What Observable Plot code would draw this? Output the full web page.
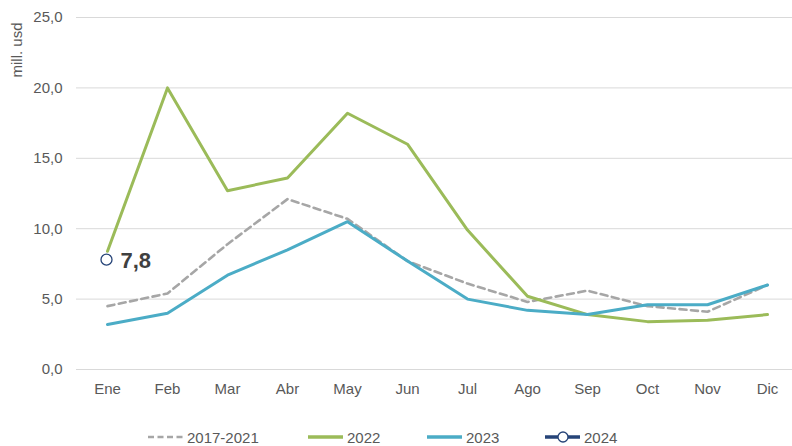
<!DOCTYPE html>
<html>
<head>
<meta charset="utf-8">
<script src="https://cdn.jsdelivr.net/npm/d3@7"></script>
<script src="https://cdn.jsdelivr.net/npm/@observablehq/plot@0.6"></script>
<style>
  body { margin: 0; background: #fff; font-family: "Liberation Sans", Arial, sans-serif; }
  #chart { width: 792px; height: 446px; position: relative; overflow: hidden; }
  #legend { position: relative; height: 26px; font-size: 15px; color: #595959; }
  .item { position: absolute; top: 0; height: 26px; display: flex; align-items: center; }
  .item svg { margin-right: 4px; }
</style>
</head>
<body>
<div id="chart"></div>
<script>
const months = ["Ene","Feb","Mar","Abr","May","Jun","Jul","Ago","Sep","Oct","Nov","Dic"];
const s2017_2021 = [4.5, 5.4, 8.9, 12.1, 10.7, 7.7, 6.1, 4.8, 5.6, 4.5, 4.1, 6.0];
const s2022 = [8.4, 20.0, 12.7, 13.6, 18.2, 16.0, 9.9, 5.2, 3.9, 3.4, 3.5, 3.9];
const s2023 = [3.2, 4.0, 6.7, 8.5, 10.5, 7.7, 5.0, 4.2, 3.9, 4.6, 4.6, 6.0];
const s2024 = [7.8];
const yTicks = [0, 5, 10, 15, 20, 25];
const seriesNames = ["2017-2021", "2022", "2023", "2024"];
const seriesColors = ["#a6a6a6", "#9bbb59", "#4bacc6", "#264478"];

const fmt = d => d.toFixed(1).replace(".", ",");
const toRows = (arr, name) => arr.map((v, i) => ({month: months[i], value: v, series: name}));
const d1721 = toRows(s2017_2021, seriesNames[0]);
const d22 = toRows(s2022, seriesNames[1]);
const d23 = toRows(s2023, seriesNames[2]);
const d24 = toRows(s2024, seriesNames[3]);

const W = 792, H = 424;
const plot = Plot.plot({
  width: W,
  height: H,
  marginLeft: 76,
  marginRight: 0,
  marginTop: 17,
  marginBottom: H - 369,
  style: {fontFamily: "Liberation Sans, Arial, sans-serif", fontSize: "15px", color: "#595959", background: "#fff"},
  x: {type: "point", domain: months, range: [107, 767], padding: 0},
  y: {domain: [0, 25]},
  marks: [
    Plot.ruleY(yTicks, {stroke: "#d9d9d9", strokeWidth: 1}),
    Plot.axisY(yTicks, {tickSize: 0, tickPadding: 14, tickFormat: fmt, label: null, fill: "#595959"}),
    Plot.axisX({tickSize: 0, tickPadding: 14, label: null, fill: "#595959"}),
    Plot.line(d1721, {x: "month", y: "value", stroke: seriesColors[0], strokeWidth: 2.6, strokeDasharray: "7,4.5"}),
    Plot.line(d22, {x: "month", y: "value", stroke: seriesColors[1], strokeWidth: 3}),
    Plot.line(d23, {x: "month", y: "value", stroke: seriesColors[2], strokeWidth: 3}),
    Plot.dot(d24, {x: "month", y: "value", r: 5.5, fill: "#fff", stroke: seriesColors[3], strokeWidth: 1.3, dx: -1}),
    Plot.text(d24, {x: "month", y: "value", text: d => fmt(d.value), dx: 13, dy: 1, textAnchor: "start", fontSize: 22, fontWeight: "bold", fill: "#404040"})
  ]
});

d3.select(plot).append("text")
  .attr("transform", "translate(22,50) rotate(-90)")
  .attr("text-anchor", "middle")
  .attr("fill", "#595959")
  .attr("font-size", 15)
  .text("mill. usd");

const chart = document.getElementById("chart");
chart.appendChild(plot);

const legend = document.createElement("div");
legend.id = "legend";
const positions = [148, 308, 427, 545];
seriesNames.forEach((name, i) => {
  const item = document.createElement("div");
  item.className = "item";
  item.style.left = positions[i] + "px";
  let sw = `<svg width="35" height="12">`;
  if (i === 0) sw += `<line x1="0" y1="6" x2="35" y2="6" stroke="${seriesColors[0]}" stroke-width="2.6" stroke-dasharray="6,3.5"/>`;
  else sw += `<line x1="0" y1="6" x2="35" y2="6" stroke="${seriesColors[i]}" stroke-width="3.5"/>`;
  if (i === 3) sw += `<circle cx="18" cy="6" r="5" fill="#fff" stroke="${seriesColors[3]}" stroke-width="1.3"/>`;
  sw += `</svg>`;
  item.innerHTML = sw + `<span>${name}</span>`;
  legend.appendChild(item);
});
chart.appendChild(legend);
</script>
</body>
</html>
